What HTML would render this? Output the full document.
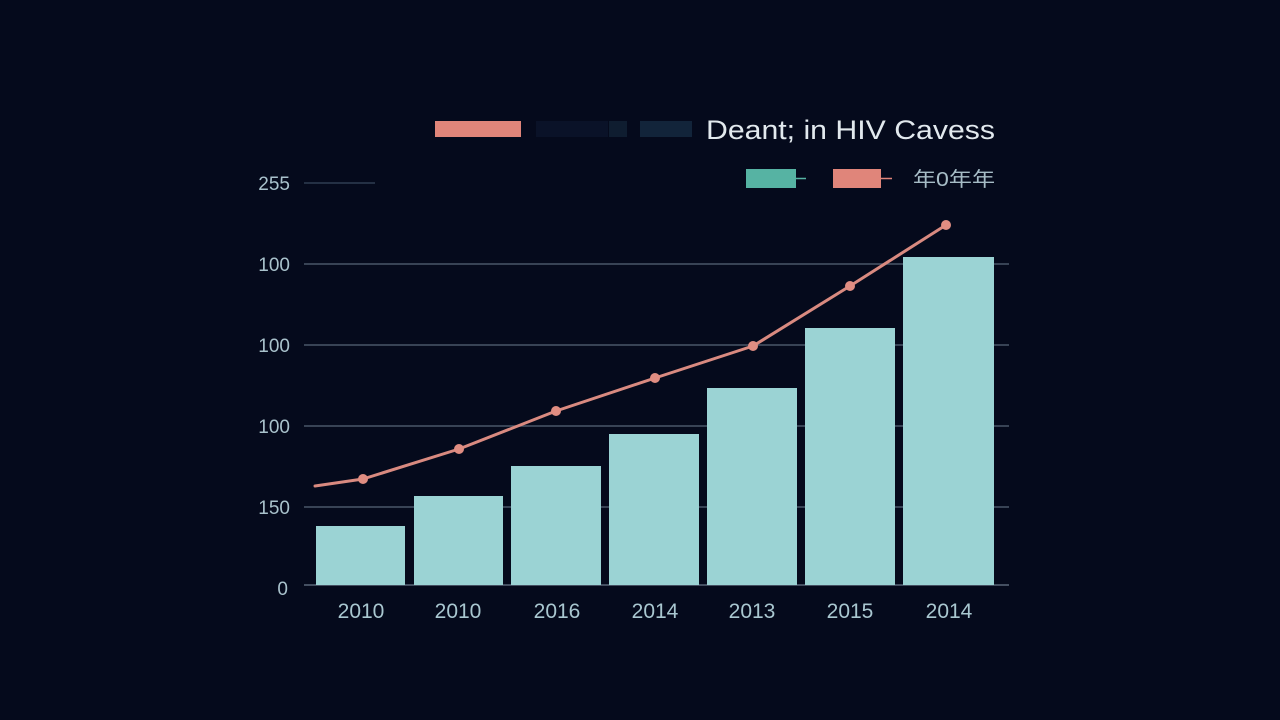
<!DOCTYPE html>
<html>
<head>
<meta charset="utf-8">
<style>
  html,body{margin:0;padding:0;background:#050a1c;}
  svg{display:block;}
  text{font-family:"Liberation Sans","Noto Sans CJK SC",sans-serif;}
</style>
</head>
<body>
<svg width="1280" height="720" viewBox="0 0 1280 720" xmlns="http://www.w3.org/2000/svg">
  <rect x="0" y="0" width="1280" height="720" fill="#050a1c"/>

  <!-- Top legend -->
  <rect x="435" y="121" width="86" height="16" fill="#e0857a"/>
  <rect x="536" y="121" width="72" height="16" fill="#0a1228"/>
  <rect x="609" y="121" width="18" height="16" fill="#0f1d30"/>
  <rect x="640" y="121" width="52" height="16" fill="#12243a"/>
  <text x="706" y="139" font-size="27" fill="#e2e9ee" textLength="289" lengthAdjust="spacingAndGlyphs">Deant; in  HIV  Cavess</text>

  <!-- Second legend -->
  <rect x="746" y="169" width="50" height="19" fill="#56b3a3"/>
  <line x1="796" y1="178.5" x2="806" y2="178.5" stroke="#56b3a3" stroke-width="1.5"/>
  <rect x="833" y="169" width="48" height="19" fill="#e0857a"/>
  <line x1="881" y1="178.5" x2="892" y2="178.5" stroke="#e0857a" stroke-width="1.5"/>
  <text x="913" y="186" font-size="20" fill="#a6bcc6" textLength="82" lengthAdjust="spacingAndGlyphs">年0年年</text>

  <!-- Gridlines -->
  <g stroke="#4a5668" stroke-width="1.5">
    <line x1="304" y1="183" x2="375" y2="183" stroke="#2f3d52"/>
    <line x1="304" y1="264" x2="1009" y2="264"/>
    <line x1="304" y1="345" x2="1009" y2="345"/>
    <line x1="304" y1="426" x2="1009" y2="426"/>
    <line x1="304" y1="507" x2="1009" y2="507"/>
    <line x1="304" y1="585" x2="1009" y2="585" stroke="#5a6678"/>
  </g>

  <!-- Y labels -->
  <g font-size="19" fill="#a9c2cc" text-anchor="end">
    <text x="290" y="190">255</text>
    <text x="290" y="271">100</text>
    <text x="290" y="352">100</text>
    <text x="290" y="433">100</text>
    <text x="290" y="514">150</text>
    <text x="288" y="595">0</text>
  </g>

  <!-- Bars -->
  <g fill="#9bd3d4">
    <rect x="316" y="526" width="89" height="59"/>
    <rect x="414" y="496" width="89" height="89"/>
    <rect x="511" y="466" width="90" height="119"/>
    <rect x="609" y="434" width="90" height="151"/>
    <rect x="707" y="388" width="90" height="197"/>
    <rect x="805" y="328" width="90" height="257"/>
    <rect x="903" y="257" width="91" height="328"/>
  </g>

  <!-- Line -->
  <polyline points="315,486 363,479 459,449 556,411 655,378 753,346 850,286 946,225"
    fill="none" stroke="#d98a80" stroke-width="3" stroke-linejoin="round" stroke-linecap="round"/>
  <g fill="#e08d82">
    <circle cx="363" cy="479" r="5"/>
    <circle cx="459" cy="449" r="5"/>
    <circle cx="556" cy="411" r="5"/>
    <circle cx="655" cy="378" r="5"/>
    <circle cx="753" cy="346" r="5"/>
    <circle cx="850" cy="286" r="5"/>
    <circle cx="946" cy="225" r="5"/>
  </g>

  <!-- X labels -->
  <g font-size="21" fill="#a9c7d0" text-anchor="middle">
    <text x="361" y="618">2010</text>
    <text x="458" y="618">2010</text>
    <text x="557" y="618">2016</text>
    <text x="655" y="618">2014</text>
    <text x="752" y="618">2013</text>
    <text x="850" y="618">2015</text>
    <text x="949" y="618">2014</text>
  </g>
</svg>
</body>
</html>
